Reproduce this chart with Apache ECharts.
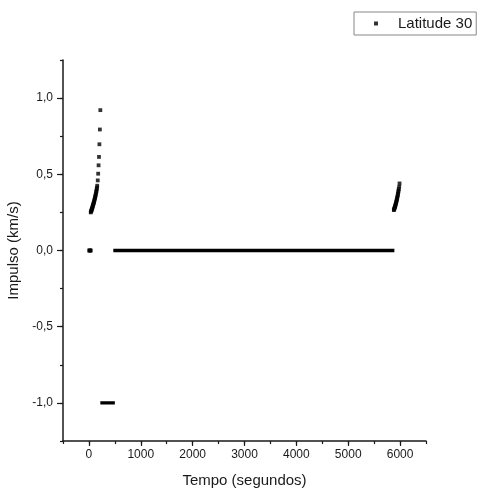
<!DOCTYPE html>
<html><head><meta charset="utf-8">
<script src="https://cdn.jsdelivr.net/npm/echarts@6/dist/echarts.min.js"></script>
<style>html,body{margin:0;padding:0;background:#fff}#c{width:479px;height:489px}</style>
</head><body><div id="c"></div>
<script>
const seriesName = 'Latitude 30';
const xTickLabels = [0, 1000, 2000, 3000, 4000, 5000, 6000];
const yTickLabels = [-1, -0.5, 0, 0.5, 1];

// individual points (time s, impulse km/s)
const startZeroTime = [5, 15, 25, 35];
const startZeroImpulse = [0, 0, 0, 0];
const riseTime = [35, 40, 45, 50, 55, 60, 65, 70, 75, 80, 85, 90, 95, 100, 105, 110, 115, 120, 125, 130, 135, 140, 145, 150, 155, 160, 170, 178, 186, 194, 202, 211, 220];
const riseImpulse = [0.250, 0.255, 0.260, 0.265, 0.270, 0.275, 0.280, 0.286, 0.292, 0.298, 0.304, 0.310, 0.316, 0.322, 0.329, 0.336, 0.343, 0.350, 0.358, 0.366, 0.374, 0.383, 0.392, 0.402, 0.413, 0.425, 0.460, 0.504, 0.559, 0.614, 0.697, 0.794, 0.921];
const endRiseTime = [5880, 5885, 5890, 5895, 5900, 5905, 5910, 5915, 5920, 5925, 5930, 5935, 5940, 5945, 5950, 5955, 5960, 5965, 5970, 5975, 5983, 5990];
const endRiseImpulse = [0.265, 0.270, 0.275, 0.280, 0.285, 0.291, 0.297, 0.303, 0.309, 0.316, 0.323, 0.330, 0.338, 0.346, 0.354, 0.363, 0.372, 0.382, 0.392, 0.403, 0.418, 0.440];
// dense runs of points (drawn as solid runs)
const burnRunTime = [220, 500];
const burnRunImpulse = [-1, -1];
const zeroRunTime = [470, 5890];
const zeroRunImpulse = [0, 0];

const zip = (a, b) => a.map((v, i) => [v, b[i]]);
const scatterData = [].concat(zip(startZeroTime, startZeroImpulse), zip(riseTime, riseImpulse), zip(endRiseTime, endRiseImpulse));

const ink = '#1a1a1a';
const axisLine = { onZero: false, lineStyle: { color: ink, width: 1.5 } };
const font = 'Liberation Sans, Arial, sans-serif';

const chart = echarts.init(document.getElementById('c'), null, { renderer: 'canvas' });
chart.setOption({
  animation: false,
  backgroundColor: '#fff',
  textStyle: { fontFamily: font },
  grid: { left: 63, right: 53, top: 60, bottom: 48, containLabel: false, outerBoundsMode: 'none' },
  legend: {
    data: [{ name: seriesName, icon: 'rect' }],
    left: 354, top: 12,
    padding: [4, 4, 4, 20],
    itemWidth: 4, itemHeight: 4,
    borderColor: '#888', borderWidth: 1,
    textStyle: { fontSize: 15, color: ink, fontFamily: font, padding: [0, 0, 0, 15] }
  },
  xAxis: [{
    type: 'value', min: -500, max: 6500, interval: 500,
    axisLine: axisLine,
    axisTick: { inside: false, length: 3, lineStyle: { color: ink, width: 1.2 } },
    axisLabel: { fontSize: 12, color: ink, margin: 8, fontFamily: font,
      formatter: v => (Math.round(v) % 1000 === 0 ? String(Math.round(v)) : '') },
    splitLine: { show: false },
    name: 'Tempo (segundos)', nameLocation: 'middle', nameGap: 32,
    nameTextStyle: { fontSize: 15, color: ink, fontFamily: font }
  }, {
    type: 'value', min: -500, max: 6500, position: 'bottom',
    axisLine: { show: false, onZero: false },
    axisTick: { show: true, length: 5, customValues: xTickLabels, lineStyle: { color: ink, width: 1.2 } },
    axisLabel: { show: false },
    splitLine: { show: false }
  }],
  yAxis: [{
    type: 'value', min: -1.25, max: 1.25, interval: 0.25,
    axisLine: axisLine,
    axisTick: { inside: false, length: 3, lineStyle: { color: ink, width: 1.2 } },
    axisLabel: { fontSize: 12, color: ink, margin: 10, fontFamily: font,
      formatter: v => (Math.abs(v * 2 - Math.round(v * 2)) < 1e-9 ? v.toFixed(1).replace('.', ',') : '') },
    splitLine: { show: false },
    name: 'Impulso (km/s)', nameLocation: 'middle', nameGap: 34,
    nameTextStyle: { fontSize: 15, color: ink, fontFamily: font }
  }, {
    type: 'value', min: -1.25, max: 1.25, position: 'left',
    axisLine: { show: false, onZero: false },
    axisTick: { show: true, length: 6, customValues: yTickLabels, lineStyle: { color: ink, width: 1.2 } },
    axisLabel: { show: false },
    splitLine: { show: false }
  }],
  series: [{
    name: seriesName, type: 'scatter', xAxisIndex: 0, yAxisIndex: 0,
    symbol: 'rect', symbolSize: 3.8,
    itemStyle: { color: '#000' },
    data: scatterData
  }, {
    name: seriesName, type: 'line', xAxisIndex: 0, yAxisIndex: 0,
    symbol: 'none', itemStyle: { color: '#000' },
    lineStyle: { color: '#000', width: 3.3 },
    data: zip(zeroRunTime, zeroRunImpulse)
  }, {
    name: seriesName, type: 'line', xAxisIndex: 0, yAxisIndex: 0,
    symbol: 'none', itemStyle: { color: '#000' },
    lineStyle: { color: '#000', width: 3.3 },
    data: zip(burnRunTime, burnRunImpulse)
  }]
});
</script></body></html>
